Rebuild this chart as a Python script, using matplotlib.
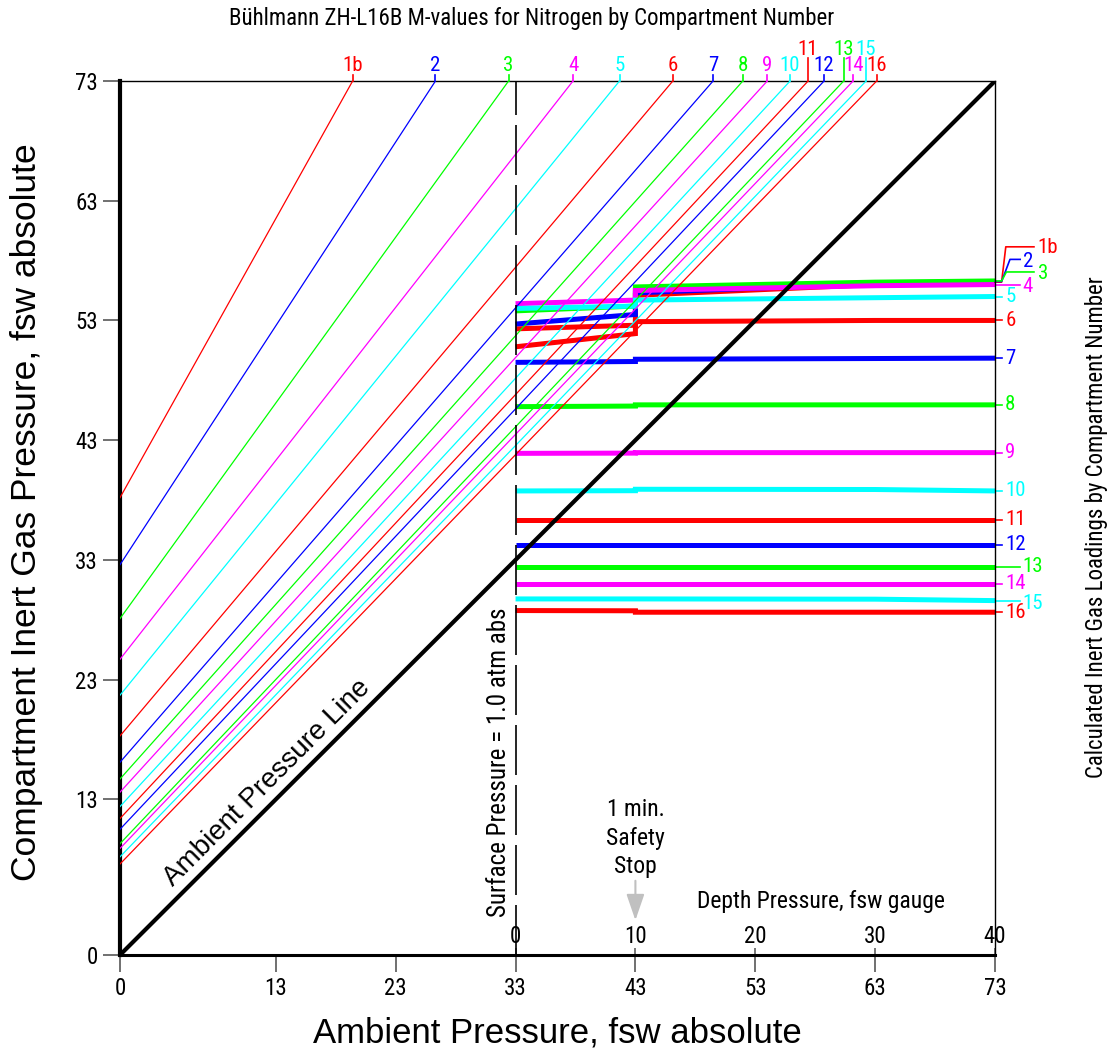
import matplotlib
matplotlib.use("Agg")
import matplotlib.pyplot as plt
from matplotlib import font_manager as fm

# ---------------- data ----------------
compartments = ["1b", "2", "3", "4", "5", "6", "7", "8",
                "9", "10", "11", "12", "13", "14", "15", "16"]
comp_colors = ["#ff0000", "#0000ff", "#00ff00", "#ff00ff", "#00ffff",
               "#ff0000", "#0000ff", "#00ff00", "#ff00ff", "#00ffff",
               "#ff0000", "#0000ff", "#00ff00", "#ff00ff", "#00ffff",
               "#ff0000"]
# M-value lines: intercept at zero ambient pressure (fsw) and slope
m_intercept = [38.2, 32.6, 28.1, 24.7, 21.7, 18.3, 16.1, 14.7,
               13.6, 12.4, 11.4, 10.5, 9.3, 8.9, 8.2, 7.6]
m_slope = [1.793, 1.535, 1.385, 1.278, 1.231, 1.186, 1.150, 1.122,
           1.100, 1.084, 1.073, 1.064, 1.055, 1.048, 1.041, 1.036]

# Calculated compartment loadings (fsw) vs ambient pressure (fsw abs)
load_x = [33, 43, 43, 63, 73]
load_surface = [52.3, 52.7, 53.8, 54.4, 54.0, 50.8, 49.5, 45.8,
                41.9, 38.76, 36.34, 34.25, 32.44, 31.0, 29.74, 28.77]
load_before_stop = [52.6, 53.5, 54.2, 54.7, 54.2, 51.9, 49.57, 45.85,
                    41.92, 38.78, 36.34, 34.25, 32.44, 31.0, 29.74, 28.75]
load_after_stop = [55.1, 55.3, 55.8, 55.5, 54.7, 52.9, 49.76, 45.95,
                   41.96, 38.9, 36.34, 34.25, 32.44, 31.0, 29.74, 28.63]
load_30fsw = [56.0, 56.1, 56.2, 55.9, 54.9, 53.0, 49.82, 45.95,
              41.96, 38.88, 36.34, 34.25, 32.44, 31.0, 29.72, 28.63]
load_40fsw = [56.2, 56.25, 56.3, 56.0, 55.0, 53.0, 49.85, 45.95,
              41.96, 38.76, 36.34, 34.25, 32.44, 31.0, 29.6, 28.63]

axis_ticks = [0, 13, 23, 33, 43, 53, 63, 73]
depth_ticks = [0, 10, 20, 30, 40]

# ---------------- fonts ----------------
_names = {f.name for f in fm.fontManager.ttflist}
NARROW = None
for cand in ["Liberation Sans Narrow", "Arial Narrow", "Roboto Condensed",
             "Open Sans Condensed", "DejaVu Sans Condensed"]:
    if cand in _names:
        NARROW = cand
        break
if NARROW is None:
    NARROW = "Liberation Sans"
REG = "Liberation Sans" if "Liberation Sans" in _names else "DejaVu Sans"
plt.rcParams["font.family"] = [NARROW, "DejaVu Sans"]

# ---------------- figure ----------------
W, H = 1112, 1053
fig = plt.figure(figsize=(W / 100, H / 100), dpi=100)
ax = fig.add_axes([120 / W, 98 / H, 875 / W, 874 / H])
ax.set_xlim(0, 73)
ax.set_ylim(0, 73)
ax.set_xticks(axis_ticks)
ax.set_yticks(axis_ticks)
ax.tick_params(direction="out", length=12, width=1.4, color="#707070",
               labelsize=16.5, pad=4, labelfontfamily=NARROW)
ax.spines["left"].set_linewidth(3.0)
ax.spines["bottom"].set_linewidth(2.2)
ax.spines["top"].set_linewidth(1.0)
ax.spines["right"].set_linewidth(1.0)

# loading lines
for i, name in enumerate(compartments):
    ys = [load_surface[i], load_before_stop[i], load_after_stop[i],
          load_30fsw[i], load_40fsw[i]]
    ax.plot(load_x, ys, color=comp_colors[i], lw=3.6, zorder=2,
            solid_joinstyle="miter", solid_capstyle="butt")

# M-value lines with top labels
raised = {"11", "13", "15"}
for i, name in enumerate(compartments):
    a, s, c = m_intercept[i], m_slope[i], comp_colors[i]
    xe = (73 - a) / s
    ax.plot([0, xe], [a, a + s * xe], color=c, lw=0.9, zorder=3)
    h = 1.9 if name in raised else 0.5
    ax.plot([xe, xe], [73, 73 + h], color=c, lw=1.2, clip_on=False, zorder=3)
    ax.text(xe, 73 + h + 0.3, name, color=c, fontsize=15, ha="center",
            va="baseline", family=NARROW)

# ambient pressure line
ax.plot([0, 73], [0, 73], color="black", lw=3.0, zorder=4)
ax.text(12.3, 14.4, "Ambient Pressure Line", rotation=45, rotation_mode="anchor",
        ha="center", va="center", fontsize=20, family=REG)

# surface pressure dashed line
ax.plot([33, 33], [0, 73], color="black", lw=1.2, dashes=(30, 6), zorder=3)
ax.text(31.6, 3.2, "Surface Pressure = 1.0 atm abs", rotation=90,
        ha="center", va="bottom", fontsize=18, family=NARROW)

# safety stop
ax.text(43, 9.75, "1 min.\nSafety\nStop", ha="center", va="center",
        fontsize=17, linespacing=1.3, family=NARROW)
ax.annotate("", xy=(43, 2.9), xytext=(43, 6.2),
            arrowprops=dict(arrowstyle="-|>,head_length=1.6,head_width=0.55",
                            color="#c0c0c0", lw=1.5, shrinkA=0, shrinkB=0))

# depth pressure axis
sec = ax.secondary_xaxis(0.0, functions=(lambda x: x - 33, lambda x: x + 33))
sec.set_alignment("top")
sec.set_xticks(depth_ticks)
sec.tick_params(axis="x", direction="out", length=5, width=1.2, color="#606060",
                labelsize=16.5, pad=0, top=True, bottom=False, labeltop=True,
                labelbottom=False, labelfontfamily=NARROW)
for sp in sec.spines.values():
    sp.set_visible(False)
ax.text(58.5, 4.45, "Depth Pressure, fsw gauge", ha="center", va="center",
        fontsize=17, family=NARROW)

# right-hand compartment labels
for i, name in enumerate(compartments):
    c, v = comp_colors[i], load_40fsw[i]
    if name == "1b":
        ax.plot([73, 73.55, 73.9, 76.25], [v, v, 59.15, 59.15], color=c, lw=1.2,
                clip_on=False)
        ax.text(76.55, 59.1, name, color=c, fontsize=15, ha="left", va="center")
    elif name == "2":
        ax.plot([73, 73.55, 74.25, 75.1], [v, v, 58.1, 58.1], color=c, lw=1.2,
                clip_on=False)
        ax.text(75.3, 57.95, name, color=c, fontsize=15, ha="left", va="center")
    elif name == "3":
        ax.plot([73, 73.55, 73.95, 76.25], [v, v, 57.05, 57.05], color=c, lw=1.2,
                clip_on=False)
        ax.text(76.55, 56.95, name, color=c, fontsize=15, ha="left", va="center")
    elif name in ("4", "13", "15"):
        ax.plot([73, 75.05], [v, v], color=c, lw=1.2, clip_on=False)
        dy = -0.2 if name != "13" else 0.0
        ax.text(75.3, v + dy, name, color=c, fontsize=15, ha="left", va="center")
    else:
        ax.plot([73, 73.55], [v, v], color=c, lw=1.2, clip_on=False)
        ax.text(73.85, v, name, color=c, fontsize=15, ha="left", va="center")

# titles and axis labels
fig.text(532 / W, 1 - 18 / H,
         "Bühlmann ZH-L16B M-values for Nitrogen by Compartment Number",
         ha="center", va="center", fontsize=16.5, family=NARROW)
fig.text(27 / W, 1 - 512 / H, "Compartment Inert Gas Pressure, fsw absolute",
         rotation=90, ha="center", va="center", fontsize=25.5, family=REG)
fig.text(557 / W, 1 - 1033 / H, "Ambient Pressure, fsw absolute",
         ha="center", va="center", fontsize=25, family=REG)
fig.text(1097 / W, 1 - 527 / H,
         "Calculated Inert Gas Loadings by Compartment Number",
         rotation=90, ha="center", va="center", fontsize=16.5, family=NARROW)

fig.savefig("out.png", dpi=100)
